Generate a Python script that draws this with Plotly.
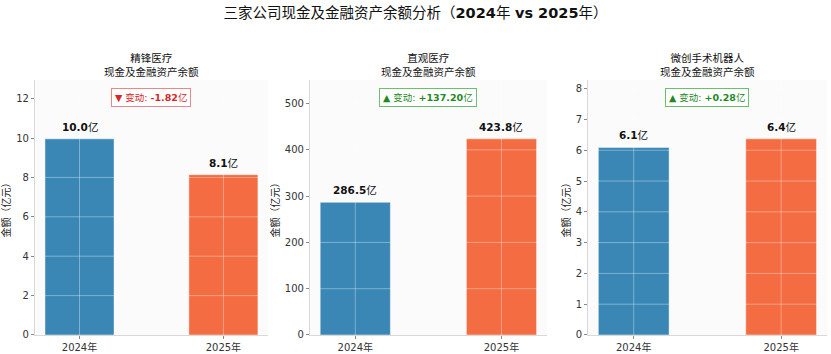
import plotly.graph_objects as go

# ---- data ----
companies = ["精锋医疗", "直观医疗", "微创手术机器人"]
years = ["2024年", "2025年"]
values_2024 = [9.96, 286.548, 6.09]
values_2025 = [8.14, 423.752, 6.37]
subtitle = "现金及金融资产余额"
main_title = "三家公司现金及金融资产余额分析（<b>2024</b>年 <b>vs 2025</b>年）"
ytitle = "金额（亿元）"
tick_steps = [2, 100, 1]

colors = ["#3A87B6", "#F46C42"]
font_cjk = "DejaVu Sans, Noto Sans CJK SC, sans-serif"

domains = [(0.042, 0.3225), (0.373, 0.658), (0.7076, 0.995)]
ydom = (0.0537, 0.774)

fig = go.Figure()
shapes = []
for i, comp in enumerate(companies):
    xa = "x" if i == 0 else f"x{i+1}"
    ya = "y" if i == 0 else f"y{i+1}"
    vals = [values_2024[i], values_2025[i]]
    fig.add_trace(go.Bar(
        x=years, y=vals, xaxis=xa, yaxis=ya, width=0.48,
        marker=dict(color=colors, opacity=1,
                    line=dict(color="rgba(255,255,255,0.45)", width=1)),
        showlegend=False, hoverinfo="skip"))
    ymax = max(vals) * 1.3
    axn = "" if i == 0 else str(i + 1)
    fig.layout[f"xaxis{axn}"] = dict(
        domain=domains[i], anchor=ya, range=[-0.31, 1.31], type="category",
        showgrid=False,
        showline=True, linecolor="#d9d9d9", linewidth=1,
        ticks="outside", ticklen=3, tickcolor="#888",
        tickfont=dict(size=10, color="#333", family=font_cjk),
        automargin=False, zeroline=False, fixedrange=True)
    fig.layout[f"yaxis{axn}"] = dict(
        domain=ydom, anchor=xa, range=[0, ymax], dtick=tick_steps[i], tick0=0,
        showgrid=False,
        showline=True, linecolor="#d9d9d9", linewidth=1,
        ticks="outside", ticklen=3, tickcolor="#888",
        tickfont=dict(size=10, color="#333", family=font_cjk),
        title=dict(text=ytitle, font=dict(size=10, color="#222", family=font_cjk), standoff=3),
        automargin=False, zeroline=False, fixedrange=True)

    # grid drawn over the bars (semi-transparent white)
    t = tick_steps[i]
    k = 1
    while k * t < ymax:
        shapes.append(dict(type="line", xref=f"{xa} domain", yref=ya,
                           x0=0, x1=1, y0=k * t, y1=k * t, layer="above",
                           line=dict(color="rgba(255,255,255,0.35)", width=1)))
        k += 1
    for j in range(len(years)):
        shapes.append(dict(type="line", xref=xa, yref=f"{ya} domain",
                           x0=j, x1=j, y0=0, y1=1, layer="above",
                           line=dict(color="rgba(255,255,255,0.35)", width=1)))

    # value labels
    for j, v in enumerate(vals):
        fig.add_annotation(
            x=years[j], y=v, xref=xa, yref=ya, yanchor="bottom", yshift=4,
            text=f"<b>{v:.1f}</b>亿", showarrow=False,
            font=dict(size=10.5, color="#111", family=font_cjk))

    # change badge
    diff = vals[1] - vals[0]
    if diff >= 0:
        txt = f"▲ 变动: <b>+{diff:.2f}</b>亿"
        tc, bc = "#1f8a1f", "#6cbf6c"
    else:
        txt = f"▼ 变动: <b>{diff:.2f}</b>亿"
        tc, bc = "#d62728", "#e8888a"
    fig.add_annotation(
        x=0.5, y=0.931, xref=f"{xa} domain", yref=f"{ya} domain",
        text=txt, showarrow=False, xanchor="center", yanchor="middle",
        font=dict(size=9.5, color=tc, family=font_cjk),
        bgcolor="white", bordercolor=bc, borderwidth=1, borderpad=3)

    # subplot title
    fig.add_annotation(
        x=(domains[i][0] + domains[i][1]) / 2, y=(354 - 65) / 354,
        xref="paper", yref="paper", xanchor="center", yanchor="middle",
        text=f"{comp}<br>{subtitle}", showarrow=False,
        font=dict(size=10.5, color="#111", family=font_cjk))

fig.update_layout(
    width=831, height=354,
    margin=dict(l=0, r=0, t=0, b=0),
    paper_bgcolor="white", plot_bgcolor="#FBFBFB",
    shapes=shapes,
    title=dict(text=main_title, x=0.5, xanchor="center", y=1 - 13 / 354, yanchor="middle",
               font=dict(size=14.5, color="#111", family=font_cjk)),
    bargap=0.2,
)

fig.write_html("out.html")
